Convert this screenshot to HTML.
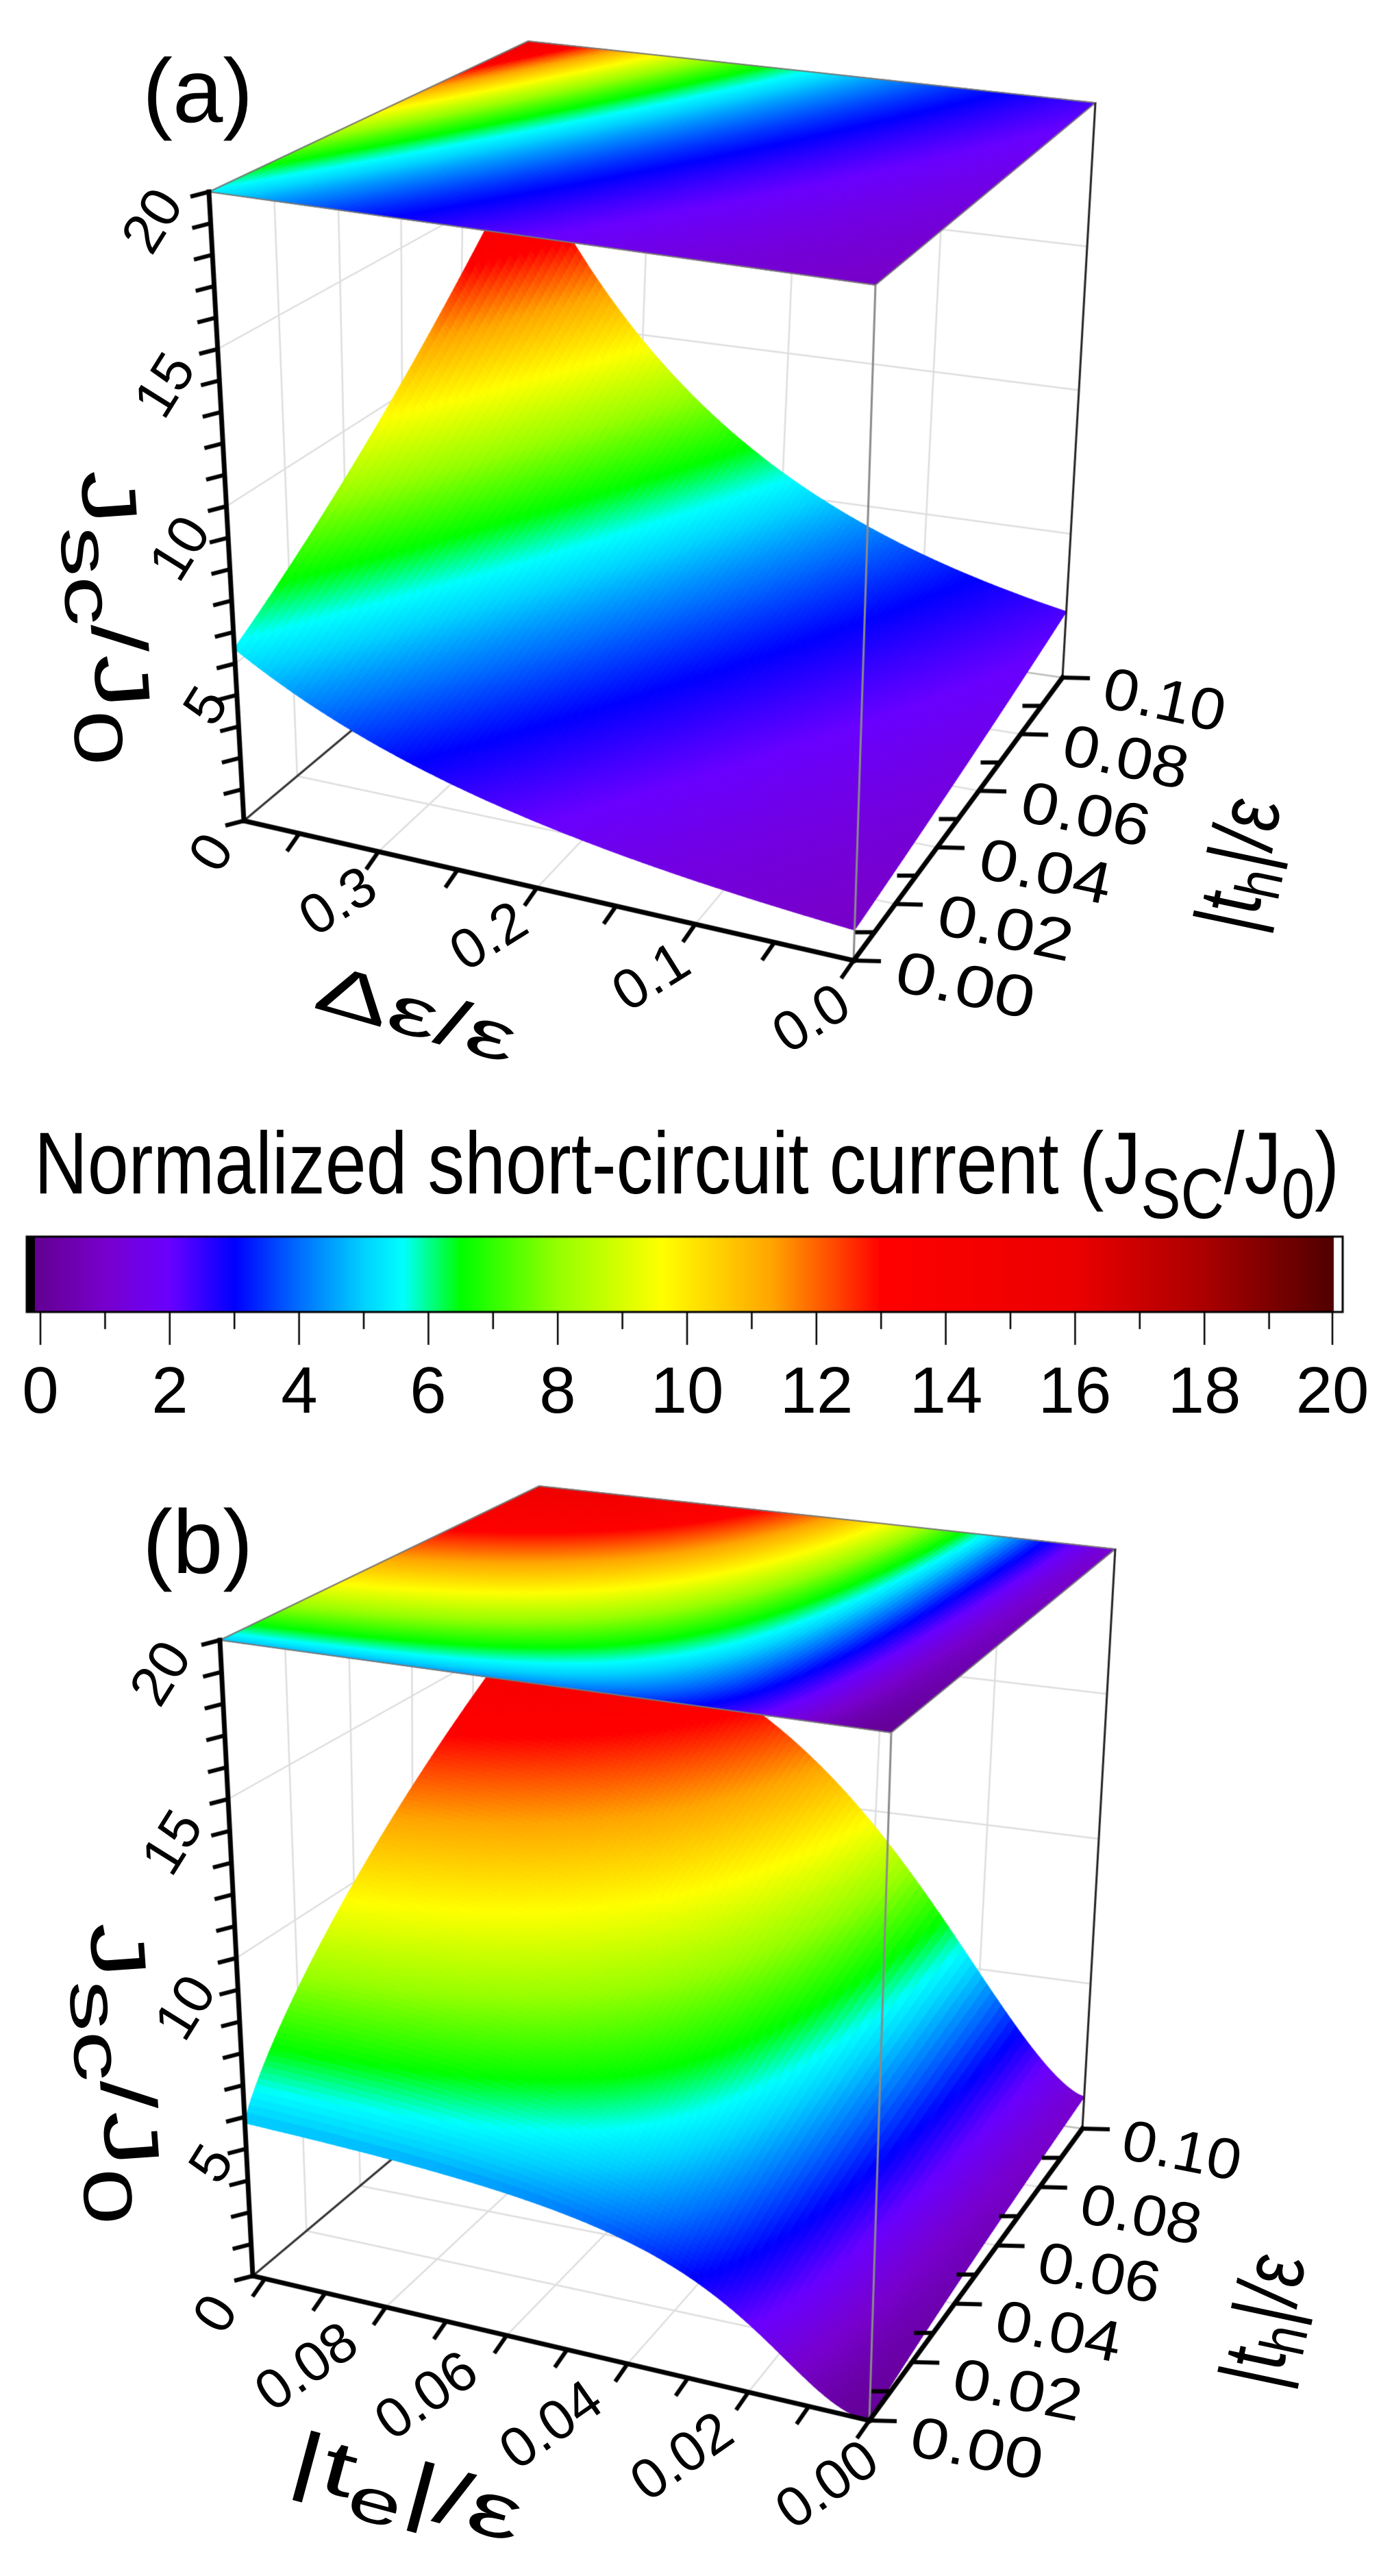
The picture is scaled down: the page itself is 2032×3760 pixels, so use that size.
<!DOCTYPE html>
<html><head><meta charset="utf-8">
<style>
html,body{margin:0;padding:0;background:#fff;}
#wrap{position:relative;width:2032px;height:3760px;overflow:hidden;background:#fff;}
canvas,svg{position:absolute;left:0;top:0;}
text{font-family:"Liberation Sans",Arial,sans-serif;fill:#000;}
</style></head>
<body>
<div id="wrap">
<canvas id="c" width="2032" height="3760"></canvas>
<svg width="2032" height="3760" viewBox="0 0 2032 3760" xmlns="http://www.w3.org/2000/svg">
<text x="208" y="178" font-size="132">(a)</text>
<text x="208" y="2296" font-size="132">(b)</text>

<g font-size="82" text-anchor="middle" dominant-baseline="central">
<text transform="translate(222,322) rotate(-58)">20</text>
<text transform="translate(240,562) rotate(-58)">15</text>
<text transform="translate(262,800) rotate(-58)">10</text>
<text transform="translate(300,1030) rotate(-58)">5</text>
<text transform="translate(308,1244) rotate(-58)">0</text>
</g>
<g font-size="82" text-anchor="middle" dominant-baseline="central">
<text transform="translate(493,1315) rotate(-32)">0.3</text>
<text transform="translate(713,1366) rotate(-32)">0.2</text>
<text transform="translate(950,1425) rotate(-32)">0.1</text>
<text transform="translate(1184,1486) rotate(-32)">0.0</text>
</g>
<g font-size="86">
<text transform="translate(1303,1445) rotate(12)" textLength="205" lengthAdjust="spacingAndGlyphs">0.00</text>
<text transform="translate(1364,1362) rotate(12)" textLength="200" lengthAdjust="spacingAndGlyphs">0.02</text>
<text transform="translate(1425,1280) rotate(12)" textLength="195" lengthAdjust="spacingAndGlyphs">0.04</text>
<text transform="translate(1486,1197) rotate(12)" textLength="190" lengthAdjust="spacingAndGlyphs">0.06</text>
<text transform="translate(1547,1114) rotate(12)" textLength="185" lengthAdjust="spacingAndGlyphs">0.08</text>
<text transform="translate(1606,1031) rotate(12)" textLength="180" lengthAdjust="spacingAndGlyphs">0.10</text>
</g>
<text transform="translate(455,1470) rotate(16)" font-size="98" textLength="300" lengthAdjust="spacingAndGlyphs">Δε/ε</text>
<text transform="translate(1830,1365) rotate(-78)" font-size="128" textLength="195" lengthAdjust="spacingAndGlyphs">|t<tspan font-size="92" dy="24">h</tspan><tspan dy="-24">|/ε</tspan></text>
<text transform="translate(118,688) rotate(86)" font-size="112" textLength="430" lengthAdjust="spacingAndGlyphs">J<tspan font-size="100" dy="36">sc</tspan><tspan dy="-36">/J</tspan><tspan font-size="100" dy="36">0</tspan></text>

<text x="50" y="1742" font-size="128" textLength="1905" lengthAdjust="spacingAndGlyphs">Normalized short-circuit current (J<tspan font-size="104" dy="36">SC</tspan><tspan dy="-36">/J</tspan><tspan font-size="104" dy="36">0</tspan><tspan dy="-36">)</tspan></text>
<g font-size="96" text-anchor="middle">
<text x="59" y="2062">0</text>
<text x="248" y="2062">2</text>
<text x="437" y="2062">4</text>
<text x="625" y="2062">6</text>
<text x="814" y="2062">8</text>
<text x="1003" y="2062">10</text>
<text x="1192" y="2062">12</text>
<text x="1381" y="2062">14</text>
<text x="1569" y="2062">16</text>
<text x="1758" y="2062">18</text>
<text x="1945" y="2062">20</text>
</g>

<g font-size="82" text-anchor="middle" dominant-baseline="central">
<text transform="translate(234,2442) rotate(-58)">20</text>
<text transform="translate(251,2689) rotate(-58)">15</text>
<text transform="translate(270,2930) rotate(-58)">10</text>
<text transform="translate(308,3158) rotate(-58)">5</text>
<text transform="translate(314,3377) rotate(-58)">0</text>
</g>
<g font-size="82" text-anchor="middle" dominant-baseline="central">
<text transform="translate(447,3454) rotate(-35)">0.08</text>
<text transform="translate(622,3496) rotate(-35)">0.06</text>
<text transform="translate(804,3539) rotate(-35)">0.04</text>
<text transform="translate(995,3585) rotate(-35)">0.02</text>
<text transform="translate(1207,3626) rotate(-35)">0.00</text>
</g>
<g font-size="84">
<text transform="translate(1325,3583) rotate(11)" textLength="195" lengthAdjust="spacingAndGlyphs">0.00</text>
<text transform="translate(1387,3498) rotate(11)" textLength="190" lengthAdjust="spacingAndGlyphs">0.02</text>
<text transform="translate(1449,3413) rotate(11)" textLength="185" lengthAdjust="spacingAndGlyphs">0.04</text>
<text transform="translate(1511,3328) rotate(11)" textLength="180" lengthAdjust="spacingAndGlyphs">0.06</text>
<text transform="translate(1573,3243) rotate(11)" textLength="178" lengthAdjust="spacingAndGlyphs">0.08</text>
<text transform="translate(1634,3150) rotate(11)" textLength="175" lengthAdjust="spacingAndGlyphs">0.10</text>
</g>
<text transform="translate(418,3622) rotate(15)" font-size="112" textLength="345" lengthAdjust="spacingAndGlyphs">|t<tspan font-size="90" dy="26">e</tspan><tspan dy="-26">|/ε</tspan></text>
<text transform="translate(1866,3490) rotate(-78)" font-size="128" textLength="195" lengthAdjust="spacingAndGlyphs">|t<tspan font-size="92" dy="24">h</tspan><tspan dy="-24">|/ε</tspan></text>
<text transform="translate(131,2808) rotate(86)" font-size="112" textLength="440" lengthAdjust="spacingAndGlyphs">J<tspan font-size="100" dy="36">sc</tspan><tspan dy="-36">/J</tspan><tspan font-size="100" dy="36">0</tspan></text>
</svg>
</div>
<script>
(function(){
var cv=document.getElementById('c');var ctx=cv.getContext('2d');
var stops=[[0,100,0,150],[1,120,0,205],[2,105,0,255],[3,0,0,255],[4,0,110,255],[5,0,210,255],[5.6,0,255,255],[6.5,0,255,0],[8,150,255,0],[9.6,255,255,0],[11.3,255,165,0],[12.3,255,70,0],[13,255,0,0],[16,235,0,0],[18,170,0,0],[20,80,0,0]];
function cmap(v){if(v<0)v=0;if(v>20)v=20;for(var i=1;i<stops.length;i++){if(v<=stops[i][0]){var a=stops[i-1],b=stops[i];var t=(v-a[0])/(b[0]-a[0]);return 'rgb('+Math.round(a[1]+(b[1]-a[1])*t)+','+Math.round(a[2]+(b[2]-a[2])*t)+','+Math.round(a[3]+(b[3]-a[3])*t)+')';}}return 'rgb(80,0,0)';}
function bil(P,u,w){return [(1-u)*(1-w)*P[0][0]+u*(1-w)*P[1][0]+(1-u)*w*P[2][0]+u*w*P[3][0],(1-u)*(1-w)*P[0][1]+u*(1-w)*P[1][1]+(1-u)*w*P[2][1]+u*w*P[3][1]];}
function mk(F,T,f){return {F:F,T:T,f:f};}
function proj(p,u,w,z){var a=bil(p.F,u,w),b=bil(p.T,u,w),t=z/20;return [a[0]+(b[0]-a[0])*t,a[1]+(b[1]-a[1])*t];}
var A=mk([[1246,1402],[356,1198],[1551,989],[745,872]],[[1278,416],[305,280],[1599,150],[771,60]],
 function(u,w){return Math.exp((1-w)*(-0.1+1.3*u+0.5*u*u)+w*(0.83+1.6*u+0.34*u*u));});
var B=mk([[1269,3533],[369,3322],[1580,3107],[761,2993]],[[1301,2529],[321,2394],[1628,2261],[787,2169]],
 function(u,w){var z0=5.1*u*u/(u*u+0.06);var z1=1.1+15*(1-Math.exp(-Math.pow(u/0.45,1.5)));var ww=Math.pow(w,0.8);return (1-ww)*z0+ww*z1;});
function line(a,b,c,wd){ctx.strokeStyle=c;ctx.lineWidth=wd;ctx.beginPath();ctx.moveTo(a[0],a[1]);ctx.lineTo(b[0],b[1]);ctx.stroke();}
function add(p,d){return [p[0]+d[0],p[1]+d[1]];}
function quadfill(p,N,zf){
 for(var i=N-1;i>=0;i--){for(var j=N-1;j>=0;j--){
  var u0=i/N,u1=(i+1)/N,w0=j/N,w1=(j+1)/N;
  var c=cmap(p.f((u0+u1)/2,(w0+w1)/2));
  var q=[proj(p,u0,w0,zf(u0,w0)),proj(p,u1,w0,zf(u1,w0)),proj(p,u1,w1,zf(u1,w1)),proj(p,u0,w1,zf(u0,w1))];
  ctx.fillStyle=c;ctx.strokeStyle=c;ctx.lineWidth=1.3;ctx.beginPath();ctx.moveTo(q[0][0],q[0][1]);
  for(var k=1;k<4;k++)ctx.lineTo(q[k][0],q[k][1]);ctx.closePath();ctx.fill();ctx.stroke();}}
}
function drawPanel(p,uMax,step,grid){
 var g='#dedede';
 for(var k=1;k<5;k++){var w=k/5;line(proj(p,0,w,0),proj(p,1,w,0),g,2.5);line(proj(p,1,w,0),proj(p,1,w,20),g,2.5);}
 for(var z=5;z<20;z+=5){line(proj(p,0,1,z),proj(p,1,1,z),g,2.5);line(proj(p,1,0,z),proj(p,1,1,z),g,2.5);}
 for(var k=0;k<grid.length;k++){var u=grid[k]/uMax;line(proj(p,u,0,0),proj(p,u,1,0),g,2.5);line(proj(p,u,1,0),proj(p,u,1,20),g,2.5);}
 line(proj(p,0,1,0),proj(p,1,1,0),'#bbb',2.5);
 line(proj(p,1,1,0),proj(p,1,1,20),'#ccc',2.5);
 line(proj(p,1,0,0),proj(p,1,1,0),'#333',3);
 quadfill(p,110,function(u,w){return p.f(u,w);});
 quadfill(p,110,function(){return 20;});
 var t=[proj(p,0,0,20),proj(p,1,0,20),proj(p,1,1,20),proj(p,0,1,20)];
 ctx.strokeStyle='#777';ctx.lineWidth=2;ctx.beginPath();ctx.moveTo(t[0][0],t[0][1]);for(var k=1;k<4;k++)ctx.lineTo(t[k][0],t[k][1]);ctx.closePath();ctx.stroke();
 line(proj(p,0,0,0),proj(p,0,0,20),'#8a8a8a',3);
 line(proj(p,0,1,0),proj(p,0,1,20),'#222',3);
 ctx.lineCap='square';
 line(proj(p,1,0,0),proj(p,1,0,20),'#000',7);
 line(proj(p,1,0,0),proj(p,0,0,0),'#000',7);
 line(proj(p,0,0,0),proj(p,0,1,0),'#000',7);
 ctx.lineCap='butt';
 for(var z=0;z<=20;z++){var q=proj(p,1,0,z);line(q,add(q,[-27,7]),'#000',6);}
 for(var d=0;d<=uMax+1e-9;d+=step){var q=proj(p,d/uMax,0,0);line(q,add(q,[-18,26]),'#000',6);}
 for(var k=0;k<=10;k++){var q=proj(p,0,k/10,0);if(k%2==0)line(q,add(q,[40,1]),'#000',6);else line(q,add(q,[-28,0]),'#000',6);}
}
drawPanel(A,0.385,0.05,[0.1,0.2,0.3]);
drawPanel(B,0.102,0.01,[0.02,0.04,0.06,0.08]);
var x0=59,sc=94.4;
ctx.fillStyle='#000';ctx.fillRect(39,1805,12,110);
for(var x=51;x<1947;x++){var v=(x-x0)/sc;ctx.fillStyle=cmap(v);ctx.fillRect(x,1805,1.5,110);}
ctx.fillStyle='#fff';ctx.fillRect(1947,1805,13,110);
ctx.strokeStyle='#000';ctx.lineWidth=3;ctx.strokeRect(39,1805,1921,110);
for(var k=0;k<=20;k++){var x=x0+k*sc;if(k==20)x=1945;line([x,1915],[x,k%2==0?1963:1940],'#000',2.5);}
})();
</script>
</body></html>
